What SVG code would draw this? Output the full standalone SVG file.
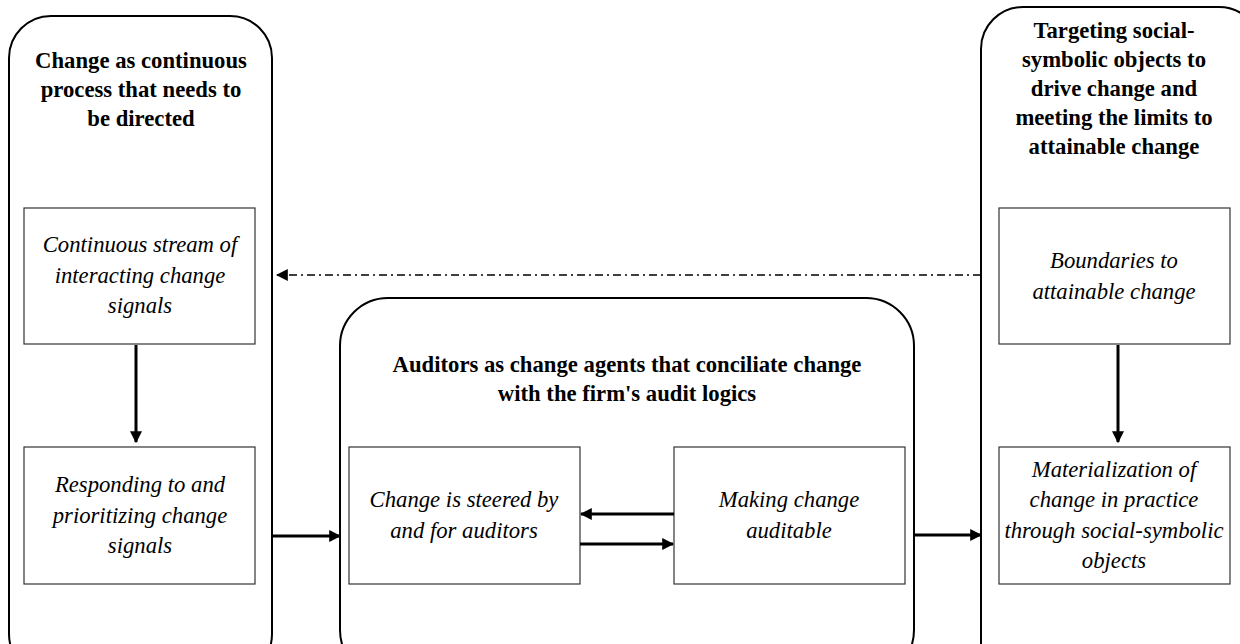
<svg xmlns="http://www.w3.org/2000/svg" width="1240" height="644" viewBox="0 0 1240 644">
<style>
.panel{fill:none;stroke:#000;stroke-width:2}
.box{fill:#fff;stroke:#333;stroke-width:1.2}
.title{font-family:"Liberation Serif",serif;font-weight:bold;font-size:22.7px;text-anchor:middle;fill:#000}
.lbl{font-family:"Liberation Serif",serif;font-style:italic;font-size:22.7px;text-anchor:middle;fill:#000}
.arr{stroke:#000;stroke-width:3;fill:none;marker-end:url(#ah)}
.dash{stroke:#000;stroke-width:1.5;fill:none;stroke-dasharray:8,4,2,4;marker-end:url(#ah2)}
</style>
<defs>
<marker id="ah" viewBox="0 0 10 10" refX="9" refY="5" markerWidth="4" markerHeight="4" orient="auto" markerUnits="strokeWidth">
<path d="M0,0 L10,5 L0,10 z" fill="#000"/>
</marker>
<marker id="ah2" viewBox="0 0 10 10" refX="9" refY="5" markerWidth="8" markerHeight="8" orient="auto" markerUnits="strokeWidth">
<path d="M0,0 L10,5 L0,10 z" fill="#000"/>
</marker>
</defs>
<rect width="1240" height="644" fill="#fff"/>

<g id="panel-left">
<rect class="panel" x="9" y="16" width="263" height="660" rx="42"/>
<text class="title" x="141" y="68">Change as continuous</text>
<text class="title" x="141" y="97">process that needs to</text>
<text class="title" x="141" y="126">be directed</text>
</g>
<g id="panel-middle">
<rect class="panel" x="340" y="298" width="574" height="380" rx="48"/>
<text class="title" x="627" y="372">Auditors as change agents that conciliate change</text>
<text class="title" x="627" y="401">with the firm's audit logics</text>
</g>
<g id="panel-right">
<rect class="panel" x="981" y="7" width="280" height="680" rx="42"/>
<text class="title" x="1114" y="38">Targeting social-</text>
<text class="title" x="1114" y="67">symbolic objects to</text>
<text class="title" x="1114" y="96">drive change and</text>
<text class="title" x="1114" y="125">meeting the limits to</text>
<text class="title" x="1114" y="154">attainable change</text>
</g>

<g id="node-stream">
<rect class="box" x="24" y="208" width="231" height="136"/>
<text class="lbl" x="140" y="252">Continuous stream of</text>
<text class="lbl" x="140" y="283">interacting change</text>
<text class="lbl" x="140" y="313">signals</text>
</g>
<g id="node-responding">
<rect class="box" x="24" y="447" width="231" height="137"/>
<text class="lbl" x="140" y="492">Responding to and</text>
<text class="lbl" x="140" y="523">prioritizing change</text>
<text class="lbl" x="140" y="553">signals</text>
</g>
<g id="node-steered">
<rect class="box" x="349" y="447" width="231" height="137"/>
<text class="lbl" x="464" y="507">Change is steered by</text>
<text class="lbl" x="464" y="538">and for auditors</text>
</g>
<g id="node-auditable">
<rect class="box" x="674" y="447" width="231" height="137"/>
<text class="lbl" x="789" y="507">Making change</text>
<text class="lbl" x="789" y="538">auditable</text>
</g>
<g id="node-boundaries">
<rect class="box" x="999" y="208" width="231" height="136"/>
<text class="lbl" x="1114" y="268">Boundaries to</text>
<text class="lbl" x="1114" y="299">attainable change</text>
</g>
<g id="node-materialization">
<rect class="box" x="999" y="447" width="231" height="137"/>
<text class="lbl" x="1114" y="477">Materialization of</text>
<text class="lbl" x="1114" y="507">change in practice</text>
<text class="lbl" x="1114" y="538">through social-symbolic</text>
<text class="lbl" x="1114" y="568">objects</text>
</g>

<g id="connectors">
<line class="arr" x1="136" y1="345" x2="136" y2="442"/>
<line class="arr" x1="1118" y1="345" x2="1118" y2="442"/>
<line class="dash" x1="981" y1="275" x2="277" y2="275"/>
<line class="arr" x1="273" y1="536" x2="340" y2="536"/>
<line class="arr" x1="914" y1="535" x2="981" y2="535"/>
<line class="arr" x1="674" y1="514" x2="581" y2="514"/>
<line class="arr" x1="580" y1="544" x2="673" y2="544"/>
</g>
</svg>
